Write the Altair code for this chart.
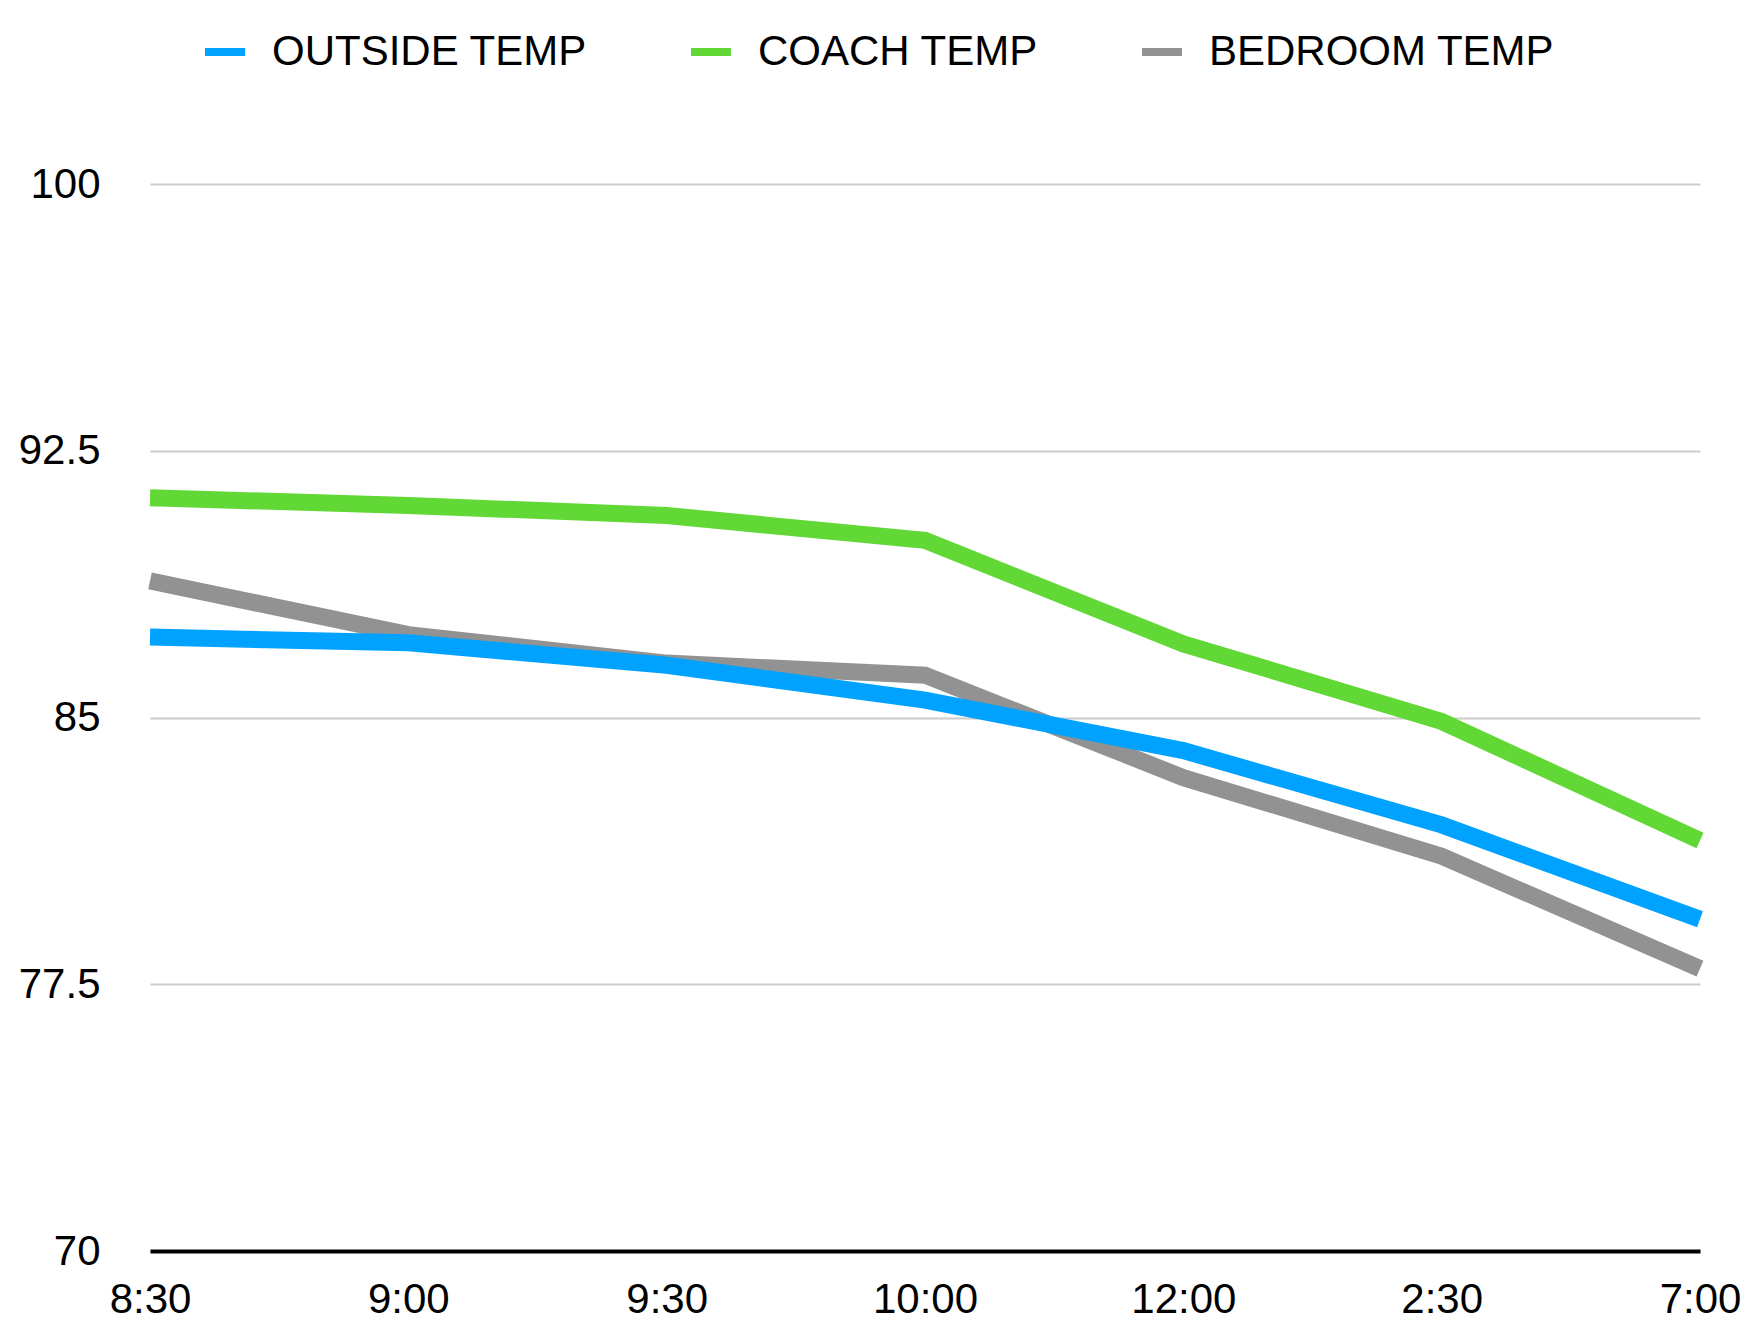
import altair as alt
import pandas as pd

times = ["8:30", "9:00", "9:30", "10:00", "12:00", "2:30", "7:00"]
outside = [87.26, 87.10, 86.47, 85.49, 84.07, 81.98, 79.33]
coach = [91.18, 90.96, 90.68, 89.98, 87.07, 84.89, 81.54]
bedroom = [88.84, 87.33, 86.53, 86.19, 83.31, 81.10, 77.94]
series_names = ["OUTSIDE TEMP", "COACH TEMP", "BEDROOM TEMP"]
colors = ["#00A2FF", "#61D836", "#929292"]
y_ticks = [70, 77.5, 85, 92.5, 100]

rows = []
for name, vals in [("BEDROOM TEMP", bedroom), ("OUTSIDE TEMP", outside), ("COACH TEMP", coach)]:
    for t, v in zip(times, vals):
        rows.append({"time": t, "series": name, "temp": v})
df = pd.DataFrame(rows)

chart = alt.Chart(df).mark_line(strokeWidth=17, strokeCap="butt").encode(
    x=alt.X("time:N", sort=times,
            scale=alt.Scale(type="point", padding=0),
            axis=alt.Axis(title=None, labelAngle=0, ticks=False, grid=False,
                          domainColor="black", domainWidth=4,
                          labelPadding=28, labelFontSize=42, labelColor="black",
                          labelFlush=False)),
    y=alt.Y("temp:Q",
            scale=alt.Scale(domain=[70, 100], nice=False, zero=False),
            axis=alt.Axis(title=None, values=y_ticks, labelExpr="'' + datum.value",
                          domain=False, ticks=False, gridColor="#cccccc", gridWidth=2,
                          labelPadding=50, labelFontSize=42, labelColor="black")),
    color=alt.Color("series:N",
                    scale=alt.Scale(domain=series_names, range=colors),
                    legend=alt.Legend(title=None, orient="none", legendX=51, legendY=-156,
                                      direction="horizontal", symbolType="stroke",
                                      symbolSize=1600, symbolStrokeWidth=8,
                                      labelFontSize=42, labelOffset=23, labelLimit=1000,
                                      columnPadding=87, labelColor="black")),
    detail="series:N",
).properties(
    width=1550,
    height=1067,
    autosize=alt.AutoSizeParams(type="none"),
    padding={"left": 150, "top": 184, "right": 64, "bottom": 80},
).configure(
    font="Liberation Sans",
).configure_view(stroke=None)

chart.save("out.html", embed_options={"renderer": "svg", "actions": False})
